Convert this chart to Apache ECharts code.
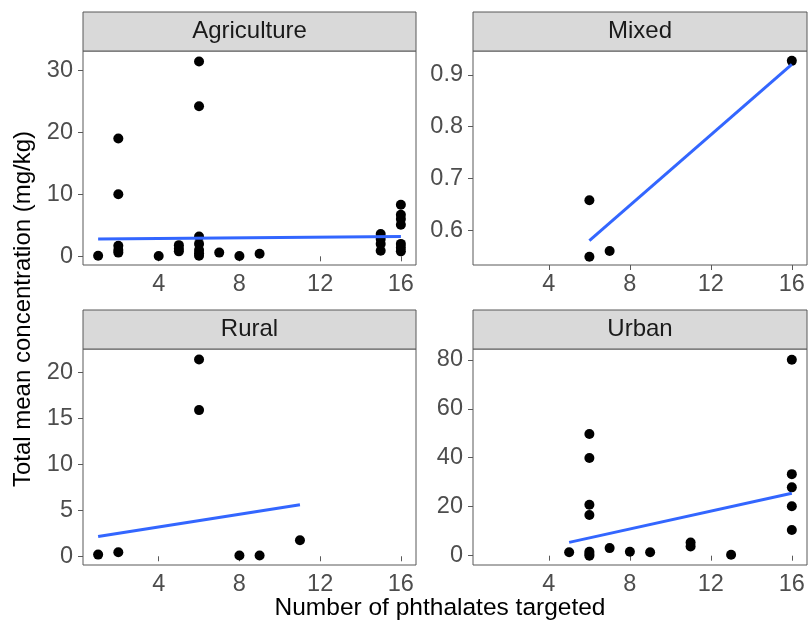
<!DOCTYPE html>
<html>
<head>
<meta charset="utf-8">
<script src="https://cdn.jsdelivr.net/npm/echarts@6/dist/echarts.min.js"></script>
<style>html,body{margin:0;padding:0;background:#fff}#c{width:810px;height:628px}</style>
</head>
<body>
<div id="c"></div>
<script>
// ---- data ----
const panels = ["Agriculture", "Mixed", "Rural", "Urban"];

const agriX = [1, 2, 2, 2, 2, 2, 4, 5, 5, 5, 6, 6, 6, 6, 6, 6, 6, 7, 8, 9, 15, 15, 15, 15, 16, 16, 16, 16, 16, 16, 16];
const agriY = [0.1, 19.0, 10.0, 1.7, 1.0, 0.6, 0.05, 1.8, 1.2, 0.8, 31.4, 24.2, 3.2, 2.0, 1.0, 0.5, 0.1, 0.6, 0.05, 0.4, 3.6, 2.8, 2.0, 0.9, 8.3, 6.7, 6.0, 5.1, 2.0, 1.4, 0.8];

const mixedX = [6, 6, 7, 16];
const mixedY = [0.658, 0.549, 0.56, 0.927];

const ruralX = [1, 2, 6, 6, 8, 9, 11];
const ruralY = [0.18, 0.44, 21.4, 15.9, 0.08, 0.08, 1.75];

const urbanX = [5, 6, 6, 6, 6, 6, 6, 6, 7, 8, 9, 11, 11, 13, 16, 16, 16, 16, 16];
const urbanY = [1.4, 49.7, 39.9, 20.8, 16.6, 1.6, 0.7, 0.0, 3.1, 1.6, 1.4, 5.4, 3.8, 0.4, 80, 33.3, 27.9, 20.2, 10.5];

// fitted (lm) line end points as drawn
const agriFitX = [1, 16],  agriFitY = [2.78, 3.2];
const mixedFitX = [6, 16], mixedFitY = [0.58, 0.92];
const ruralFitX = [1, 11], ruralFitY = [2.15, 5.6];
const urbanFitX = [5, 16], urbanFitY = [5.45, 25.5];

const xTicks = [4, 8, 12, 16];
const agriTicks = [0, 10, 20, 30];
const mixedTicks = [0.6, 0.7, 0.8, 0.9];
const ruralTicks = [0, 5, 10, 15, 20];
const urbanTicks = [0, 20, 40, 60, 80];

const xTitle = "Number of phthalates targeted";
const yTitle = "Total mean concentration (mg/kg)";

// ---- chart ----
const FONT = '"Liberation Sans", Arial, Helvetica, sans-serif';
const zip = (xs, ys) => xs.map((x, i) => [x, ys[i]]);

const grids = [
  {left: 83, top: 51, width: 333, height: 214},
  {left: 473, top: 51, width: 334, height: 214},
  {left: 83, top: 349, width: 333, height: 216},
  {left: 473, top: 349, width: 334, height: 216}
];
const yRanges = [[-1.4, 33.1], [0.533, 0.946], [-0.95, 22.55], [-3.8, 84.4]];
const yTickSets = [agriTicks, mixedTicks, ruralTicks, urbanTicks];
const pts = [zip(agriX, agriY), zip(mixedX, mixedY), zip(ruralX, ruralY), zip(urbanX, urbanY)];
const fits = [zip(agriFitX, agriFitY), zip(mixedFitX, mixedFitY), zip(ruralFitX, ruralFitY), zip(urbanFitX, urbanFitY)];

const axisGrey = '#595959';
const option = {
  animation: false,
  backgroundColor: '#ffffff',
  grid: grids.map(g => Object.assign({show: true, borderColor: axisGrey, borderWidth: 1, backgroundColor: '#fff', containLabel: false}, g)),
  xAxis: grids.map((g, i) => ({
    type: 'value', gridIndex: i, min: 0.25, max: 16.75,
    axisLine: {show: false},
    splitLine: {show: false},
    axisTick: {show: true, length: 5, lineStyle: {color: axisGrey, width: 1}, customValues: xTicks},
    axisLabel: {show: true, margin: 8, fontSize: 23.5, color: '#4d4d4d', fontFamily: FONT, customValues: xTicks}
  })),
  yAxis: grids.map((g, i) => ({
    type: 'value', gridIndex: i, min: yRanges[i][0], max: yRanges[i][1],
    axisLine: {show: false},
    splitLine: {show: false},
    axisTick: {show: true, length: 5, lineStyle: {color: axisGrey, width: 1}, customValues: yTickSets[i]},
    axisLabel: {show: true, margin: 10, fontSize: 23.5, color: '#4d4d4d', fontFamily: FONT, customValues: yTickSets[i],
      formatter: v => (i === 1 ? Number(v).toFixed(1) : String(v))}
  })),
  series: [].concat(
    pts.map((d, i) => ({
      type: 'scatter', xAxisIndex: i, yAxisIndex: i, data: d,
      symbol: 'circle', symbolSize: 10, itemStyle: {color: '#000', opacity: 1}, z: 3
    })),
    fits.map((d, i) => ({
      type: 'line', xAxisIndex: i, yAxisIndex: i, data: d,
      showSymbol: false, symbol: 'none', lineStyle: {color: '#3366FF', width: 3}, z: 4
    }))
  ),
  graphic: [].concat(
    grids.map((g, i) => ({
      type: 'rect', z: 10,
      shape: {x: g.left, y: g.top - 39, width: g.width, height: 39},
      style: {fill: '#d9d9d9', stroke: axisGrey, lineWidth: 1}
    })),
    grids.map((g, i) => ({
      type: 'text', z: 11,
      x: g.left + g.width / 2, y: g.top - 19.5,
      style: {text: panels[i], fontSize: 24, fontFamily: FONT, fill: '#1a1a1a', align: 'center', verticalAlign: 'middle'}
    })),
    [{
      type: 'text', z: 11, x: 440, y: 608,
      style: {text: xTitle, fontSize: 24.5, fontFamily: FONT, fill: '#000', align: 'center', verticalAlign: 'middle'}
    }, {
      type: 'text', z: 11, x: 23, y: 309, rotation: Math.PI / 2,
      style: {text: yTitle, fontSize: 24, fontFamily: FONT, fill: '#000', align: 'center', verticalAlign: 'middle'}
    }]
  )
};

const chart = echarts.init(document.getElementById('c'), null, {renderer: 'canvas'});
chart.setOption(option);
</script>
</body>
</html>
